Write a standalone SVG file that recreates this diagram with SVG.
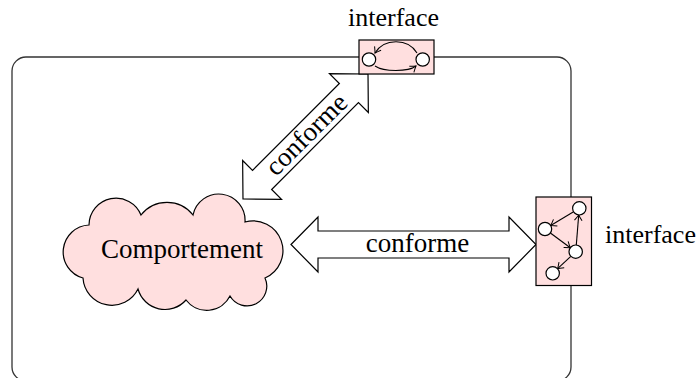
<svg xmlns="http://www.w3.org/2000/svg" width="699" height="378" viewBox="0 0 699 378">
<style>
  text { font-family: 'Liberation Serif', 'DejaVu Serif', serif; fill: #000; }
  .shape { fill: #ffdfdf; stroke: #000; stroke-width: 1.2; }
  .dbl { fill: #fff; stroke: #000; stroke-width: 1.2; stroke-linejoin: miter; }
  .st { fill: #fff; stroke: #000; stroke-width: 1.2; }
  .edge { fill: none; stroke: #000; stroke-width: 1.1; marker-end: url(#to); }
</style>
<defs>
  <marker id="to" markerUnits="userSpaceOnUse" viewBox="-7 -5 9 10" refX="0" refY="0" markerWidth="9" markerHeight="10" orient="auto" overflow="visible">
    <path d="M -5.5,-3.8 Q -1.5,-0.8 0,0 Q -1.5,0.8 -5.5,3.8" fill="none" stroke="#000" stroke-width="1"/>
  </marker>
</defs>

<g id="system">
  <rect x="12" y="57" width="559" height="324" rx="14" ry="14" fill="none" stroke="#333" stroke-width="1.3"/>
</g>

<g id="connectors">
  <g id="conforme-diag" transform="translate(305.5,136.5) rotate(-45)">
    <path class="dbl" d="M -88.4,0 L -61.4,-27.5 L -61.4,-13.5 L 61.4,-13.5 L 61.4,-27.5 L 88.4,0 L 61.4,27.5 L 61.4,13.5 L -61.4,13.5 L -61.4,27.5 Z"/>
    <text x="2" y="8" font-family="Liberation Serif, DejaVu Serif, serif" font-size="27" text-anchor="middle">conforme</text>
  </g>
  <g id="conforme-horiz" transform="translate(413.5,244.5)">
    <path class="dbl" d="M -122.5,0 L -95.5,-27.5 L -95.5,-13.5 L 95.5,-13.5 L 95.5,-27.5 L 122.5,0 L 95.5,27.5 L 95.5,13.5 L -95.5,13.5 L -95.5,27.5 Z"/>
    <text x="4" y="7.5" font-family="Liberation Serif, DejaVu Serif, serif" font-size="27" text-anchor="middle">conforme</text>
  </g>
</g>

<g id="comportement">
  <path class="shape" d="M 83,278 A 27,27 0 0 1 89,225 A 27,27 0 0 1 141,215 A 33,33 0 0 1 193,215 A 26.3,26.3 0 0 1 245,222 A 29.8,29.8 0 0 1 265,278 A 19.7,19.7 0 0 1 230,296 A 26,26 0 0 1 186,300 A 28,28 0 0 1 138,289 A 29,29 0 0 1 83,278 Z"/>
  <text x="182" y="258" font-family="Liberation Serif, DejaVu Serif, serif" font-size="27" text-anchor="middle">Comportement</text>
</g>

<g id="interface-top">
  <rect class="shape" x="359" y="40" width="75" height="34"/>
  <circle class="st" cx="369" cy="59.5" r="6.7"/>
  <circle class="st" cx="422.7" cy="59.5" r="6.7"/>
  <path class="edge" d="M 417,53 C 408,38 384,38 375,53"/>
  <path class="edge" d="M 375,66 C 384,72 408,72 416,66"/>
  <text x="393.5" y="26" font-family="Liberation Serif, DejaVu Serif, serif" font-size="26" text-anchor="middle">interface</text>
</g>

<g id="interface-right">
  <rect class="shape" x="536" y="197" width="55.5" height="88.5"/>
  <path class="edge" d="M 573.6,211.8 L 550.7,225.5"/>
  <path class="edge" d="M 550.4,233 L 570.3,247.7"/>
  <path class="edge" d="M 576.3,245 L 578.7,215"/>
  <path class="edge" d="M 570.8,256.3 L 557.6,268.7"/>
  <circle class="st" cx="579.3" cy="208.3" r="6.7"/>
  <circle class="st" cx="545" cy="229" r="6.7"/>
  <circle class="st" cx="575.7" cy="251.7" r="6.7"/>
  <circle class="st" cx="552.7" cy="273.3" r="6.7"/>
  <text x="605" y="243" font-family="Liberation Serif, DejaVu Serif, serif" font-size="26">interface</text>
</g>
</svg>
